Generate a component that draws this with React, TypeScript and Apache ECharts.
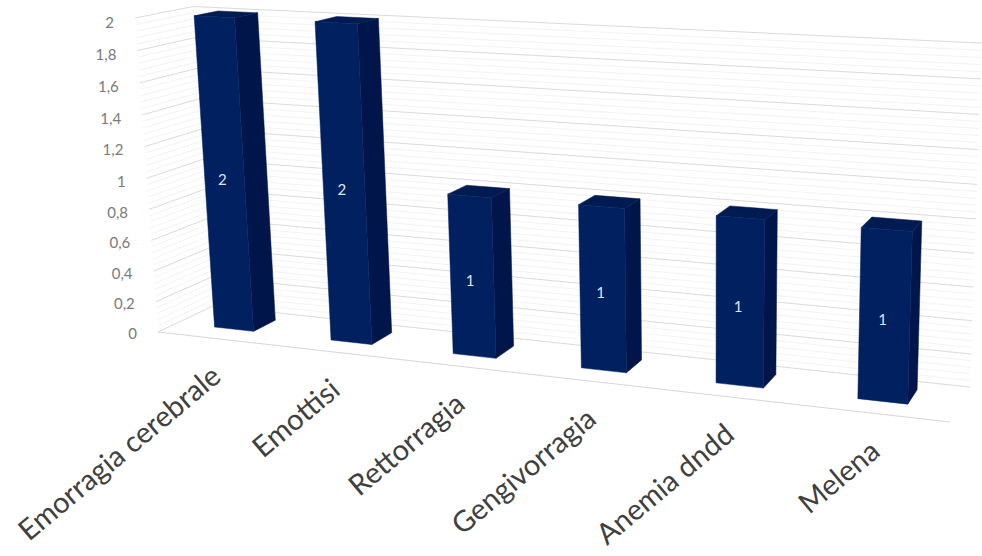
import React, { useEffect, useRef } from "react";
import * as echarts from "echarts";

// Chart data
const categories = ["Emorragia cerebrale", "Emottisi", "Rettorragia", "Gengivorragia", "Anemia dndd", "Melena"];
const casesPerCategory = [2, 2, 1, 1, 1, 1];
const tickValues = [0, 0.2, 0.4, 0.6, 0.8, 1, 1.2, 1.4, 1.6, 1.8, 2];
const tickLabels = ["0", "0,2", "0,4", "0,6", "0,8", "1", "1,2", "1,4", "1,6", "1,8", "2"];
const minorStepsPerTick = 5;

// Perspective camera: u runs along the categories, v up the value axis, w into the depth.
const origin = [158, 332];
const frontRight = [950, 422];
const topLeft = [135, 18];
const floorBackLeft = [213, 306];
const persp = { u: -0.14, v: -0.04, w: 0.05 };
const axisU = [(1 + persp.u) * frontRight[0] - origin[0], (1 + persp.u) * frontRight[1] - origin[1]];
const axisV = [(1 + persp.v) * topLeft[0] - origin[0], (1 + persp.v) * topLeft[1] - origin[1]];
const axisW = [(1 + persp.w) * floorBackLeft[0] - origin[0], (1 + persp.w) * floorBackLeft[1] - origin[1]];

function project(u: number, v: number, w: number): number[] {
  const d = 1 + persp.u * u + persp.v * v + persp.w * w;
  return [
    (origin[0] + axisU[0] * u + axisV[0] * v + axisW[0] * w) / d,
    (origin[1] + axisU[1] * u + axisV[1] * v + axisW[1] * w) / d,
  ];
}

const FONT = "Lato";
const barShare = 0.34;
const depthFront = 0.34;
const depthBack = 0.76;

// Pixel position from the cartesian axes, as fractions of the plot rectangle.
function toUnit(params: any, api: any, cat: number, val: number) {
  const p = api.coord([cat, val]);
  const r = params.coordSys;
  return { u: (p[0] - r.x) / r.width, v: (r.y + r.height - p[1]) / r.height, band: api.size([1, 0])[0] / r.width };
}

function wallLine(a: number[], b: number[], stroke: string) {
  return {
    type: "line",
    shape: { x1: a[0], y1: a[1], x2: b[0], y2: b[1] },
    style: { stroke, lineWidth: 1, fill: "none" },
    silent: true,
  };
}

function renderWalls(params: any, api: any) {
  const { v } = toUnit(params, api, 0, api.value(1));
  const stroke = api.value(2) ? "#dadada" : "#f3f3f3";
  return {
    type: "group",
    children: [
      wallLine(project(0, v, 0), project(0, v, 1), stroke),
      wallLine(project(0, v, 1), project(1, v, 1), stroke),
    ],
  };
}

function renderFloor() {
  return wallLine(project(0, 0, 0), project(1, 0, 0), "#d6d6d6");
}

function renderTick(params: any, api: any) {
  const { v } = toUnit(params, api, 0, api.value(1));
  const p = project(0, v, 0);
  return {
    type: "text",
    x: p[0] - 21,
    y: p[1] + 1 + v * 3,
    style: {
      text: tickLabels[params.dataIndex],
      fill: "#7a7a7a",
      font: `15px ${FONT}`,
      align: "right",
      verticalAlign: "middle",
    },
  };
}

function poly(points: number[][], fill: string) {
  return { type: "polygon", shape: { points }, style: { fill, stroke: fill, lineWidth: 0.5 } };
}

function renderBar(params: any, api: any) {
  const cat = api.value(0);
  const val = api.value(1);
  const { u, v, band } = toUnit(params, api, cat, val);
  const half = (band * barShare) / 2;
  const l = u - half;
  const r = u + half;
  const f = depthFront;
  const b = depthBack;
  const label = project(u, v / 2, f);
  return {
    type: "group",
    children: [
      poly([project(r, 0, f), project(r, 0, b), project(r, v, b), project(r, v, f)], "#00164a"),
      poly([project(l, v, f), project(r, v, f), project(r, v, b), project(l, v, b)], "#001a52"),
      poly([project(l, 0, f), project(r, 0, f), project(r, v, f), project(l, v, f)], "#002060"),
      {
        type: "text",
        x: label[0] - 2,
        y: label[1] + 3,
        style: {
          text: String(val),
          fill: "#dfe5ef",
          font: `15px ${FONT}`,
          align: "center",
          verticalAlign: "middle",
        },
      },
    ],
  };
}

function renderCategory(params: any, api: any) {
  const { u } = toUnit(params, api, api.value(0), 0);
  const p = project(u, 0, 0);
  return {
    type: "text",
    x: p[0],
    y: p[1] + 32,
    rotation: (40 * Math.PI) / 180,
    style: {
      text: categories[params.dataIndex],
      fill: "#404040",
      font: `29px ${FONT}`,
      align: "right",
      verticalAlign: "middle",
    },
  };
}

export default function App() {
  const ref = useRef<HTMLDivElement>(null);

  useEffect(() => {
    document.body.style.margin = "0";
    const chart = echarts.init(ref.current!, undefined, { renderer: "svg" });
    const lineRows: number[][] = [];
    for (let i = 0; i < tickValues.length - 1; i++) {
      const step = (tickValues[i + 1] - tickValues[i]) / minorStepsPerTick;
      for (let k = 1; k < minorStepsPerTick; k++) lineRows.push([0, tickValues[i] + k * step, 0]);
    }
    tickValues.forEach((t) => lineRows.push([0, t, 1]));
    const base = { type: "custom", silent: true, clip: false, xAxisIndex: 0, yAxisIndex: 0 };
    chart.setOption({
      animation: false,
      backgroundColor: "#ffffff",
      grid: { left: 0, right: 0, top: 0, bottom: 0 },
      xAxis: { type: "category", data: categories, show: false },
      yAxis: { type: "value", min: 0, max: 2, interval: 0.2, show: false },
      series: [
        { ...base, renderItem: renderWalls, data: lineRows },
        { ...base, renderItem: renderFloor, data: [[0, 0]] },
        { ...base, renderItem: renderTick, data: tickValues.map((t) => [0, t]) },
        { ...base, renderItem: renderBar, data: casesPerCategory.map((c, i) => [i, c]) },
        { ...base, renderItem: renderCategory, data: categories.map((_, i) => [i, 0]) },
      ],
    });
    return () => chart.dispose();
  }, []);

  return <div ref={ref} style={{ position: "absolute", left: 0, top: 0, width: 982, height: 556 }} />;
}
